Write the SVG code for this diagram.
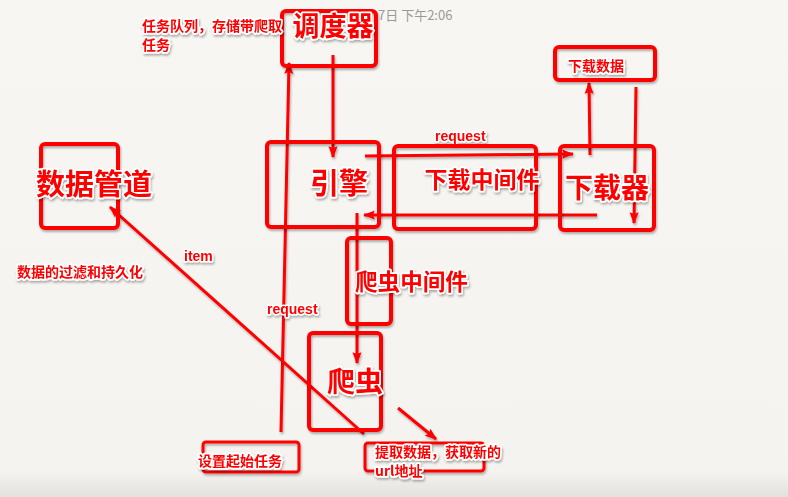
<svg xmlns="http://www.w3.org/2000/svg" width="788" height="497" viewBox="0 0 788 497">
<defs>
<linearGradient id="bg" x1="0" y1="0" x2="0" y2="1">
<stop offset="0" stop-color="#f7f6f3"/>
<stop offset="0.95" stop-color="#f4f3ef"/>
<stop offset="1" stop-color="#e2e1de"/>
</linearGradient>
<filter id="sh" filterUnits="userSpaceOnUse" x="0" y="0" width="788" height="497">
<feDropShadow dx="1" dy="2" stdDeviation="1.2" flood-color="#000" flood-opacity="0.3"/>
</filter>
<marker id="ah" viewBox="0 0 10 10" refX="9" refY="5" markerWidth="4" markerHeight="4" orient="auto" markerUnits="strokeWidth">
<path d="M0,1.2 L10,5 L0,8.8 L1.5,5 z" fill="#ff0000"/>
</marker>
<style>
.box{fill:none;stroke:#ff0000;stroke-width:4;filter:url(#sh)}
.ln{fill:none;stroke:#ff0000;stroke-width:3;marker-end:url(#ah);filter:url(#sh)}
.t{font-family:"Noto Sans CJK SC","Liberation Sans",sans-serif;font-weight:700;fill:#ff0000;stroke:#ffffff;stroke-width:3.5;paint-order:stroke;stroke-linejoin:round;filter:url(#sh)}
.s{font-size:14px}
.e{font-family:"Liberation Sans","Noto Sans CJK SC",sans-serif;font-weight:700;font-size:14px;fill:#ff0000;stroke:#ffffff;stroke-width:3;paint-order:stroke;stroke-linejoin:round;filter:url(#sh)}
</style>
</defs>
<rect x="0" y="0" width="788" height="497" fill="url(#bg)"/>
<text x="378" y="20" font-family="Noto Sans CJK SC, Liberation Sans, sans-serif" font-size="13" fill="#9a9a9a">7日 下午2:06</text>

<g id="connectors">
<line class="ln" x1="333" y1="55" x2="333" y2="157"/>
<line class="ln" x1="281" y1="432" x2="289" y2="63"/>
<line class="ln" x1="365" y1="156" x2="573" y2="154"/>
<line class="ln" x1="597" y1="215" x2="364" y2="215"/>
<line class="ln" x1="590" y1="155" x2="589" y2="83"/>
<line class="ln" x1="636" y1="87" x2="634" y2="223"/>
<line class="ln" x1="357" y1="213" x2="357" y2="363"/>
<line class="ln" x1="364" y1="434" x2="110" y2="207"/>
<line class="ln" x1="398" y1="408" x2="436" y2="439"/>
<text class="e" x="435" y="141">request</text>
<text class="e" x="267" y="314">request</text>
<text class="e" x="184" y="261">item</text>
</g>

<g id="scheduler">
<rect class="box" x="282" y="11" width="94" height="55" rx="4"/>
<text class="t" x="333" y="36" font-size="27" text-anchor="middle">调度器</text>
</g>
<g id="scheduler-note">
<text class="t s" x="142" y="31">任务队列，存储带爬取</text>
<text class="t s" x="142" y="50">任务</text>
</g>
<g id="engine">
<rect class="box" x="267" y="142" width="112" height="85" rx="4"/>
<text class="t" x="339" y="194" font-size="29" text-anchor="middle">引擎</text>
</g>
<g id="downloader-middleware">
<rect class="box" x="394" y="146" width="142" height="83" rx="4"/>
<text class="t" x="482" y="188" font-size="23" text-anchor="middle">下载中间件</text>
</g>
<g id="downloader">
<rect class="box" x="560" y="146" width="94" height="84" rx="4"/>
<text class="t" x="607" y="198" font-size="28" text-anchor="middle">下载器</text>
</g>
<g id="download-data">
<rect class="box" x="555" y="47" width="100" height="33" rx="4"/>
<text class="t s" x="568" y="71">下载数据</text>
</g>
<g id="pipeline">
<rect class="box" x="41" y="144" width="77" height="84" rx="4"/>
<text class="t" x="94" y="195" font-size="29" text-anchor="middle">数据管道</text>
</g>
<g id="pipeline-note">
<text class="t s" x="17" y="277">数据的过滤和持久化</text>
</g>
<g id="spider-middleware">
<rect class="box" x="347" y="238" width="44" height="86" rx="4"/>
<text class="t" x="355" y="290" font-size="22.6">爬虫中间件</text>
</g>
<g id="spider">
<rect class="box" x="309" y="333" width="72" height="97" rx="4"/>
<text class="t" x="327" y="392" font-size="28">爬虫</text>
</g>
<g id="start-task">
<rect class="box" x="203" y="442" width="96" height="30" rx="3" style="stroke-width:3"/>
<text class="t s" x="198" y="466">设置起始任务</text>
</g>
<g id="extract">
<rect class="box" x="365" y="443" width="119" height="28" rx="3" style="stroke-width:3"/>
<text class="t s" x="375" y="457">提取数据，获取新的</text>
<text class="t s" x="375" y="476">url地址</text>
</g>
</svg>
